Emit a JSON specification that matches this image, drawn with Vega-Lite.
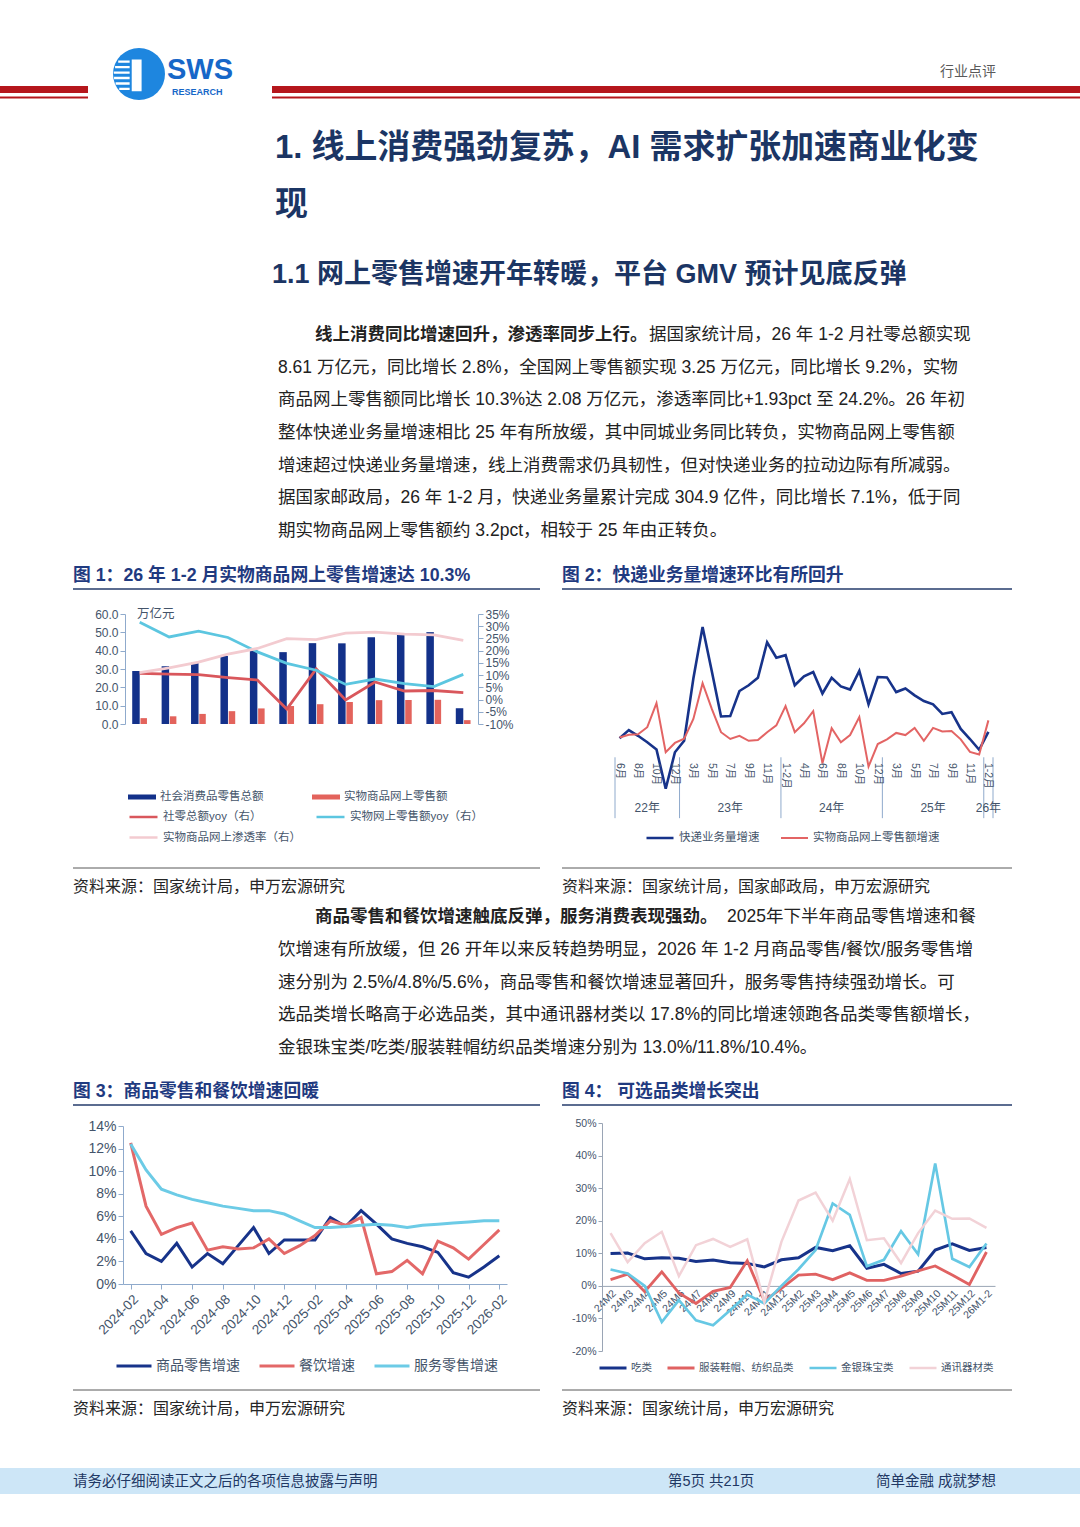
{
"$schema":"https://vega.github.io/schema/vega-lite/v6.json",
"width":1080,"height":1527,"autosize":{"type":"none"},"padding":0,"background":"#ffffff",
"config":{
 "view":{"stroke":null},
 "text":{"font":"Liberation Sans, Noto Sans CJK SC"},
 "axis":{"grid":false,"labelFont":"Liberation Sans, Noto Sans CJK SC","labelColor":"#44546a","domainColor":"#8faacc","tickColor":"#8faacc","labelOverlap":false,"labelFlush":false},
 "legend":{"labelFont":"Liberation Sans, Noto Sans CJK SC","labelColor":"#44546a","padding":0}
},
"datasets":{
 "one":[{"k":1}],
 "p1":[
  {"line":2,"text":"8.61 万亿元，同比增长 2.8%，全国网上零售额实现 3.25 万亿元，同比增长 9.2%，实物"},
  {"line":3,"text":"商品网上零售额同比增长 10.3%达 2.08 万亿元，渗透率同比+1.93pct 至 24.2%。26 年初"},
  {"line":4,"text":"整体快递业务量增速相比 25 年有所放缓，其中同城业务同比转负，实物商品网上零售额"},
  {"line":5,"text":"增速超过快递业务量增速，线上消费需求仍具韧性，但对快递业务的拉动边际有所减弱。"},
  {"line":6,"text":"据国家邮政局，26 年 1-2 月，快递业务量累计完成 304.9 亿件，同比增长 7.1%，低于同"},
  {"line":7,"text":"期实物商品网上零售额约 3.2pct，相较于 25 年由正转负。"}
 ],
 "p2":[
  {"line":2,"text":"饮增速有所放缓，但 26 开年以来反转趋势明显，2026 年 1-2 月商品零售/餐饮/服务零售增"},
  {"line":3,"text":"速分别为 2.5%/4.8%/5.6%，商品零售和餐饮增速显著回升，服务零售持续强劲增长。可"},
  {"line":4,"text":"选品类增长略高于必选品类，其中通讯器材类以 17.8%的同比增速领跑各品类零售额增长，"},
  {"line":5,"text":"金银珠宝类/吃类/服装鞋帽纺织品类增速分别为 13.0%/11.8%/10.4%。"}
 ],
 "c1":[
  {"year":"2015","社会消费品零售总额":28.9,"实物商品网上零售额":3.2,"社零总额yoy（右）":10.7,"实物网上零售额yoy（右）":31.6,"实物商品网上渗透率（右）":11.0},
  {"year":"2016","社会消费品零售总额":31.5,"实物商品网上零售额":4.2,"社零总额yoy（右）":10.4,"实物网上零售额yoy（右）":25.6,"实物商品网上渗透率（右）":13.0},
  {"year":"2017","社会消费品零售总额":33.5,"实物商品网上零售额":5.5,"社零总额yoy（右）":10.2,"实物网上零售额yoy（右）":28.0,"实物商品网上渗透率（右）":15.3},
  {"year":"2018","社会消费品零售总额":37.1,"实物商品网上零售额":7.0,"社零总额yoy（右）":9.0,"实物网上零售额yoy（右）":25.4,"实物商品网上渗透率（右）":18.6},
  {"year":"2019","社会消费品零售总额":40.4,"实物商品网上零售额":8.5,"社零总额yoy（右）":8.0,"实物网上零售额yoy（右）":19.5,"实物商品网上渗透率（右）":20.9},
  {"year":"2020","社会消费品零售总额":39.2,"实物商品网上零售额":9.8,"社零总额yoy（右）":-3.9,"实物网上零售额yoy（右）":14.8,"实物商品网上渗透率（右）":24.9},
  {"year":"2021","社会消费品零售总额":44.1,"实物商品网上零售额":10.8,"社零总额yoy（右）":12.5,"实物网上零售额yoy（右）":12.0,"实物商品网上渗透率（右）":24.5},
  {"year":"2022","社会消费品零售总额":44.0,"实物商品网上零售额":12.0,"社零总额yoy（右）":-0.2,"实物网上零售额yoy（右）":6.2,"实物商品网上渗透率（右）":27.2},
  {"year":"2023","社会消费品零售总额":47.3,"实物商品网上零售额":13.0,"社零总额yoy（右）":7.2,"实物网上零售额yoy（右）":8.4,"实物商品网上渗透率（右）":27.6},
  {"year":"2024","社会消费品零售总额":48.8,"实物商品网上零售额":13.1,"社零总额yoy（右）":3.5,"实物网上零售额yoy（右）":6.5,"实物商品网上渗透率（右）":26.8},
  {"year":"2025","社会消费品零售总额":50.1,"实物商品网上零售额":13.2,"社零总额yoy（右）":3.7,"实物网上零售额yoy（右）":5.3,"实物商品网上渗透率（右）":26.5},
  {"year":"2026M1-2","社会消费品零售总额":8.6,"实物商品网上零售额":2.1,"社零总额yoy（右）":2.8,"实物网上零售额yoy（右）":10.3,"实物商品网上渗透率（右）":24.2}
 ],
 "c2":[
  {"t":"22-06","lab":"6月","yl":"","快递业务量增速":5.3,"实物商品网上零售额增速":5.5},
  {"t":"22-07","lab":"","yl":"","快递业务量增速":7.6,"实物商品网上零售额增速":6.3},
  {"t":"22-08","lab":"8月","yl":"","快递业务量增速":6.0,"实物商品网上零售额增速":6.4},
  {"t":"22-09","lab":"","yl":"22年","快递业务量增速":4.2,"实物商品网上零售额增速":8.4},
  {"t":"22-10","lab":"10月","yl":"","快递业务量增速":2.2,"实物商品网上零售额增速":15.1},
  {"t":"22-11","lab":"","yl":"","快递业务量增速":-8.8,"实物商品网上零售额增速":1.4},
  {"t":"22-12","lab":"12月","yl":"","快递业务量增速":1.4,"实物商品网上零售额增速":4.0},
  {"t":"23-02","lab":"","yl":"","快递业务量增速":4.6,"实物商品网上零售额增速":5.2},
  {"t":"23-03","lab":"3月","yl":"","快递业务量增速":22.0,"实物商品网上零售额增速":10.7},
  {"t":"23-04","lab":"","yl":"","快递业务量增速":36.4,"实物商品网上零售额增速":20.7},
  {"t":"23-05","lab":"5月","yl":"","快递业务量增速":24.0,"实物商品网上零售额增速":13.5},
  {"t":"23-06","lab":"","yl":"","快递业务量增速":11.4,"实物商品网上零售额增速":7.0},
  {"t":"23-07","lab":"7月","yl":"23年","快递业务量增速":11.5,"实物商品网上零售额增速":5.1},
  {"t":"23-08","lab":"","yl":"","快递业务量增速":18.5,"实物商品网上零售额增速":6.0},
  {"t":"23-09","lab":"9月","yl":"","快递业务量增速":20.1,"实物商品网上零售额增速":4.6},
  {"t":"23-10","lab":"","yl":"","快递业务量增速":22.2,"实物商品网上零售额增速":4.8},
  {"t":"23-11","lab":"11月","yl":"","快递业务量增速":32.1,"实物商品网上零售额增速":7.0},
  {"t":"23-12","lab":"","yl":"","快递业务量增速":27.8,"实物商品网上零售额增速":8.9},
  {"t":"24-02","lab":"1-2月","yl":"","快递业务量增速":28.5,"实物商品网上零售额增速":14.3},
  {"t":"24-03","lab":"","yl":"","快递业务量增速":20.1,"实物商品网上零售额增速":7.0},
  {"t":"24-04","lab":"4月","yl":"","快递业务量增速":22.6,"实物商品网上零售额增速":9.5},
  {"t":"24-05","lab":"","yl":"","快递业务量增速":23.8,"实物商品网上零售额增速":12.9},
  {"t":"24-06","lab":"6月","yl":"","快递业务量增速":17.8,"实物商品网上零售额增速":-1.7},
  {"t":"24-07","lab":"","yl":"24年","快递业务量增速":22.2,"实物商品网上零售额增速":8.1},
  {"t":"24-08","lab":"8月","yl":"","快递业务量增速":19.8,"实物商品网上零售额增速":4.2},
  {"t":"24-09","lab":"","yl":"","快递业务量增速":18.9,"实物商品网上零售额增速":6.2},
  {"t":"24-10","lab":"10月","yl":"","快递业务量增速":24.1,"实物商品网上零售额增速":11.2},
  {"t":"24-11","lab":"","yl":"","快递业务量增速":14.8,"实物商品网上零售额增速":-2.6},
  {"t":"24-12","lab":"12月","yl":"","快递业务量增速":22.4,"实物商品网上零售额增速":3.7},
  {"t":"25-02","lab":"","yl":"","快递业务量增速":22.3,"实物商品网上零售额增速":5.0},
  {"t":"25-03","lab":"3月","yl":"","快递业务量增速":18.2,"实物商品网上零售额增速":6.8},
  {"t":"25-04","lab":"","yl":"","快递业务量增速":19.2,"实物商品网上零售额增速":6.2},
  {"t":"25-05","lab":"5月","yl":"","快递业务量增速":17.3,"实物商品网上零售额增速":8.2},
  {"t":"25-06","lab":"","yl":"","快递业务量增速":15.7,"实物商品网上零售额增速":4.6},
  {"t":"25-07","lab":"7月","yl":"25年","快递业务量增速":14.8,"实物商品网上零售额增速":8.2},
  {"t":"25-08","lab":"","yl":"","快递业务量增速":12.1,"实物商品网上零售额增速":7.2},
  {"t":"25-09","lab":"9月","yl":"","快递业务量增速":12.6,"实物商品网上零售额增速":7.3},
  {"t":"25-10","lab":"","yl":"","快递业务量增速":7.9,"实物商品网上零售额增速":5.0},
  {"t":"25-11","lab":"11月","yl":"","快递业务量增速":5.1,"实物商品网上零售额增速":1.5},
  {"t":"25-12","lab":"","yl":"","快递业务量增速":2.1,"实物商品网上零售额增速":0.8},
  {"t":"26-02","lab":"1-2月","yl":"26年","快递业务量增速":7.1,"实物商品网上零售额增速":10.3}
 ],
 "c3":[
  {"month":"2024-02","商品零售增速":4.7,"餐饮增速":12.5,"服务零售增速":12.4},
  {"month":"2024-03","商品零售增速":2.7,"餐饮增速":6.9,"服务零售增速":10.1},
  {"month":"2024-04","商品零售增速":2.0,"餐饮增速":4.4,"服务零售增速":8.4},
  {"month":"2024-05","商品零售增速":3.6,"餐饮增速":5.0,"服务零售增速":7.9},
  {"month":"2024-06","商品零售增速":1.5,"餐饮增速":5.4,"服务零售增速":7.5},
  {"month":"2024-07","商品零售增速":2.7,"餐饮增速":3.0,"服务零售增速":7.2},
  {"month":"2024-08","商品零售增速":1.8,"餐饮增速":3.3,"服务零售增速":6.9},
  {"month":"2024-09","商品零售增速":3.4,"餐饮增速":3.1,"服务零售增速":6.7},
  {"month":"2024-10","商品零售增速":5.0,"餐饮增速":3.2,"服务零售增速":6.5},
  {"month":"2024-11","商品零售增速":2.7,"餐饮增速":4.0,"服务零售增速":6.5},
  {"month":"2024-12","商品零售增速":3.9,"餐饮增速":2.7,"服务零售增速":6.2},
  {"month":"2025-01","商品零售增速":3.9,"餐饮增速":3.4,"服务零售增速":5.6},
  {"month":"2025-02","商品零售增速":3.9,"餐饮增速":4.3,"服务零售增速":5.0},
  {"month":"2025-03","商品零售增速":5.9,"餐饮增速":5.6,"服务零售增速":5.0},
  {"month":"2025-04","商品零售增速":5.1,"餐饮增速":5.2,"服务零售增速":5.1},
  {"month":"2025-05","商品零售增速":6.5,"餐饮增速":5.9,"服务零售增速":5.2},
  {"month":"2025-06","商品零售增速":5.3,"餐饮增速":0.9,"服务零售增速":5.3},
  {"month":"2025-07","商品零售增速":4.0,"餐饮增速":1.1,"服务零售增速":5.2},
  {"month":"2025-08","商品零售增速":3.6,"餐饮增速":2.1,"服务零售增速":5.0},
  {"month":"2025-09","商品零售增速":3.3,"餐饮增速":0.9,"服务零售增速":5.2},
  {"month":"2025-10","商品零售增速":2.8,"餐饮增速":3.8,"服务零售增速":5.3},
  {"month":"2025-11","商品零售增速":1.0,"餐饮增速":3.2,"服务零售增速":5.4},
  {"month":"2025-12","商品零售增速":0.6,"餐饮增速":2.2,"服务零售增速":5.5},
  {"month":"2026-01","商品零售增速":1.5,"餐饮增速":3.5,"服务零售增速":5.6},
  {"month":"2026-02","商品零售增速":2.5,"餐饮增速":4.8,"服务零售增速":5.6}
 ],
 "c4":[
  {"cat":"24M2","吃类":9.9,"服装鞋帽、纺织品类":1.9,"金银珠宝类":5.0,"通讯器材类":16.2},
  {"cat":"24M3","吃类":10.1,"服装鞋帽、纺织品类":3.6,"金银珠宝类":3.8,"通讯器材类":7.3},
  {"cat":"24M4","吃类":8.3,"服装鞋帽、纺织品类":-1.8,"金银珠宝类":0.0,"通讯器材类":13.1},
  {"cat":"24M5","吃类":8.6,"服装鞋帽、纺织品类":4.3,"金银珠宝类":-11.1,"通讯器材类":16.6},
  {"cat":"24M6","吃类":8.5,"服装鞋帽、纺织品类":-2.2,"金银珠宝类":-4.4,"通讯器材类":3.0},
  {"cat":"24M7","吃类":7.5,"服装鞋帽、纺织品类":-5.4,"金银珠宝类":-10.6,"通讯器材类":12.5},
  {"cat":"24M8","吃类":7.9,"服装鞋帽、纺织品类":-1.7,"金银珠宝类":-12.1,"通讯器材类":14.4},
  {"cat":"24M9","吃类":7.1,"服装鞋帽、纺织品类":-0.5,"金银珠宝类":-7.5,"通讯器材类":12.0},
  {"cat":"24M10","吃类":6.9,"服装鞋帽、纺织品类":7.7,"金银珠宝类":-2.7,"通讯器材类":14.3},
  {"cat":"24M11","吃类":5.8,"服装鞋帽、纺织品类":-4.6,"金银珠宝类":-5.4,"通讯器材类":-5.0},
  {"cat":"24M12","吃类":8.0,"服装鞋帽、纺织品类":-0.8,"金银珠宝类":0.0,"通讯器材类":13.5},
  {"cat":"25M2","吃类":8.6,"服装鞋帽、纺织品类":3.3,"金银珠宝类":5.1,"通讯器材类":26.2},
  {"cat":"25M3","吃类":11.8,"服装鞋帽、纺织品类":3.6,"金银珠宝类":11.0,"通讯器材类":28.6},
  {"cat":"25M4","吃类":10.8,"服装鞋帽、纺织品类":1.9,"金银珠宝类":25.3,"通讯器材类":20.0},
  {"cat":"25M5","吃类":12.3,"服装鞋帽、纺织品类":4.0,"金银珠宝类":21.8,"通讯器材类":32.8},
  {"cat":"25M6","吃类":5.4,"服装鞋帽、纺织品类":1.7,"金银珠宝类":6.0,"通讯器材类":14.0},
  {"cat":"25M7","吃类":6.6,"服装鞋帽、纺织品类":1.7,"金银珠宝类":8.0,"通讯器材类":14.6},
  {"cat":"25M8","吃类":3.8,"服装鞋帽、纺织品类":3.0,"金银珠宝类":16.8,"通讯器材类":7.0},
  {"cat":"25M9","吃类":4.5,"服装鞋帽、纺织品类":4.6,"金银珠宝类":9.7,"通讯器材类":16.2},
  {"cat":"25M10","吃类":11.0,"服装鞋帽、纺织品类":6.1,"金银珠宝类":37.6,"通讯器材类":23.1},
  {"cat":"25M11","吃类":12.9,"服装鞋帽、纺织品类":3.3,"金银珠宝类":8.3,"通讯器材类":20.6},
  {"cat":"25M12","吃类":10.9,"服装鞋帽、纺织品类":0.4,"金银珠宝类":5.8,"通讯器材类":20.7},
  {"cat":"26M1-2","吃类":11.8,"服装鞋帽、纺织品类":10.4,"金银珠宝类":13.0,"通讯器材类":17.8}
 ]
},
"layer":[
 {"data":{"name":"one"},"mark":{"type":"rect","color":"#b5161c"},"encoding":{"x":{"value":0},"x2":{"value":88},"y":{"value":86},"y2":{"value":93}}},
 {"data":{"name":"one"},"mark":{"type":"rect","color":"#b5161c"},"encoding":{"x":{"value":0},"x2":{"value":88},"y":{"value":96.5},"y2":{"value":98.5}}},
 {"data":{"name":"one"},"mark":{"type":"rect","color":"#b5161c"},"encoding":{"x":{"value":272},"x2":{"value":1080},"y":{"value":86},"y2":{"value":93}}},
 {"data":{"name":"one"},"mark":{"type":"rect","color":"#b5161c"},"encoding":{"x":{"value":272},"x2":{"value":1080},"y":{"value":96.5},"y2":{"value":98.5}}},
 {"data":{"name":"one"},"mark":{"type":"point","shape":"circle","filled":true,"size":2704,"color":"#1e86df","opacity":1},"encoding":{"x":{"value":139},"y":{"value":74}}},
 {"data":{"name":"one"},"mark":{"type":"point","shape":"M-0.8,-0.52H-0.36V-0.43H-0.8Z M-0.92,-0.31H-0.36V-0.22H-0.92Z M-0.97,-0.1H-0.36V-0.01H-0.97Z M-0.96,0.11H-0.36V0.2H-0.96Z M-0.9,0.32H-0.36V0.41H-0.9Z M-0.76,0.53H-0.36V0.62H-0.76Z M-0.28,-0.56H0.1V0.66H-0.28Z","filled":true,"size":2704,"color":"#ffffff","opacity":1},"encoding":{"x":{"value":139},"y":{"value":74}}},
 {"data":{"name":"one"},"mark":{"type":"text","align":"left","baseline":"middle","fontSize":29,"fontWeight":"bold","color":"#1767c8","font":"Liberation Sans"},"encoding":{"x":{"value":167},"y":{"value":70},"text":{"value":"SWS"}}},
 {"data":{"name":"one"},"mark":{"type":"text","align":"left","baseline":"middle","fontSize":9,"fontWeight":"bold","color":"#1767c8","font":"Liberation Sans"},"encoding":{"x":{"value":172},"y":{"value":91.5},"text":{"value":"RESEARCH"}}},
 {"data":{"name":"one"},"mark":{"type":"text","align":"center","baseline":"middle","fontSize":14,"color":"#595959"},"encoding":{"x":{"value":968},"y":{"value":72},"text":{"value":"行业点评"}}},
 {"data":{"name":"one"},"mark":{"type":"text","align":"left","baseline":"middle","fontSize":32.9,"fontWeight":"bold","color":"#1b3564"},"encoding":{"x":{"value":275},"y":{"value":148},"text":{"value":"1. 线上消费强劲复苏，AI 需求扩张加速商业化变"}}},
 {"data":{"name":"one"},"mark":{"type":"text","align":"left","baseline":"middle","fontSize":32.9,"fontWeight":"bold","color":"#1b3564"},"encoding":{"x":{"value":275},"y":{"value":205},"text":{"value":"现"}}},
 {"data":{"name":"one"},"mark":{"type":"text","align":"left","baseline":"middle","fontSize":27,"fontWeight":"bold","color":"#1b3564"},"encoding":{"x":{"value":272},"y":{"value":275},"text":{"value":"1.1 网上零售增速开年转暖，平台 GMV 预计见底反弹"}}},
 {"data":{"name":"one"},"mark":{"type":"text","align":"left","baseline":"middle","fontSize":17.5,"fontWeight":"bold","color":"#222222"},"encoding":{"x":{"value":315},"y":{"value":335},"text":{"value":"线上消费同比增速回升，渗透率同步上行。"}}},
 {"data":{"name":"one"},"mark":{"type":"text","align":"left","baseline":"middle","fontSize":17.5,"color":"#222222"},"encoding":{"x":{"value":649},"y":{"value":335},"text":{"value":"据国家统计局，26 年 1-2 月社零总额实现"}}},
 {"data":{"name":"p1"},"mark":{"type":"text","align":"left","baseline":"middle","fontSize":17.5,"color":"#222222"},"encoding":{"x":{"value":278},"y":{"field":"line","type":"quantitative","scale":{"domain":[1,7],"range":[335,531],"nice":false,"zero":false},"axis":null},"text":{"field":"text"}}},
 {"data":{"name":"one"},"mark":{"type":"text","align":"left","baseline":"middle","fontSize":17.8,"fontWeight":"bold","color":"#1f3a80"},"encoding":{"x":{"value":73},"y":{"value":576},"text":{"value":"图 1：26 年 1-2 月实物商品网上零售增速达 10.3%"}}},
 {"data":{"name":"one"},"mark":{"type":"text","align":"left","baseline":"middle","fontSize":17.8,"fontWeight":"bold","color":"#1f3a80"},"encoding":{"x":{"value":562},"y":{"value":576},"text":{"value":"图 2：快递业务量增速环比有所回升"}}},
 {"data":{"name":"one"},"mark":{"type":"rule","color":"#243b6b","strokeWidth":1.5},"encoding":{"x":{"value":73},"x2":{"value":540},"y":{"value":589}}},
 {"data":{"name":"one"},"mark":{"type":"rule","color":"#243b6b","strokeWidth":1.5},"encoding":{"x":{"value":562},"x2":{"value":1012},"y":{"value":589}}},
 {
  "data":{"name":"c1"},
  "layer":[
   {"mark":{"type":"bar","width":7.5,"xOffset":-3.75},
    "encoding":{
     "x":{"field":"year","type":"ordinal","title":null,"scale":{"range":[125,478],"paddingInner":0,"paddingOuter":0},"axis":{"orient":"bottom","offset":-803,"labelAngle":-45,"labelFontSize":12,"tickBand":"extent","tickSize":5,"labelPadding":3}},
     "y":{"field":"社会消费品零售总额","type":"quantitative","title":null,"scale":{"domain":[0,60],"range":[724,614],"nice":false,"zero":false},"axis":{"orient":"left","offset":-125,"values":[0,10,20,30,40,50,60],"format":".1f","labelFontSize":12,"tickSize":5}},
     "fill":{"datum":"社会消费品零售总额","type":"nominal","scale":{"domain":["社会消费品零售总额","实物商品网上零售额"],"range":["#13318a","#e3635c"]},"legend":{"orient":"none","legendX":128,"legendY":790,"direction":"horizontal","columns":2,"title":null,"symbolType":"M-1,-0.18H1V0.18H-1Z","symbolSize":784,"symbolStrokeWidth":0,"labelFontSize":11.5,"columnPadding":48,"labelOffset":4,"clipHeight":14}}
    }},
   {"mark":{"type":"bar","width":6.5,"xOffset":4},
    "encoding":{
     "x":{"field":"year","type":"ordinal","title":null,"scale":{"range":[125,478],"paddingInner":0,"paddingOuter":0},"axis":null},
     "y":{"field":"实物商品网上零售额","type":"quantitative","title":null,"scale":{"domain":[0,60],"range":[724,614],"nice":false,"zero":false},"axis":null},
     "fill":{"datum":"实物商品网上零售额","type":"nominal"}
    }},
   {"transform":[{"fold":["社零总额yoy（右）","实物网上零售额yoy（右）","实物商品网上渗透率（右）"],"as":["key","value"]}],
    "mark":{"type":"line","strokeWidth":2.8},
    "encoding":{
     "x":{"field":"year","type":"ordinal","title":null,"scale":{"range":[125,478],"paddingInner":0,"paddingOuter":0},"axis":null},
     "y":{"field":"value","type":"quantitative","title":null,"scale":{"domain":[-10,35],"range":[724,614],"nice":false,"zero":false},"axis":{"orient":"right","offset":-602,"values":[-10,-5,0,5,10,15,20,25,30,35],"labelExpr":"datum.value + '%'","labelFontSize":12,"tickSize":5}},
     "stroke":{"field":"key","type":"nominal","scale":{"domain":["社零总额yoy（右）","实物网上零售额yoy（右）","实物商品网上渗透率（右）"],"range":["#d9575c","#5cc6e0","#f3cbd0"]},"legend":{"orient":"none","legendX":128,"legendY":810,"direction":"horizontal","columns":2,"title":null,"symbolType":"stroke","symbolSize":784,"symbolStrokeWidth":2.5,"labelFontSize":11.5,"columnPadding":14,"rowPadding":6.5,"labelOffset":4,"clipHeight":14}}
    }},
   {"data":{"name":"one"},"mark":{"type":"text","align":"left","baseline":"middle","fontSize":12.5,"color":"#44546a"},"encoding":{"x":{"value":137},"y":{"value":614},"text":{"value":"万亿元"}}}
  ],
  "resolve":{"scale":{"y":"independent"}}
 },
 {
  "data":{"name":"c2"},
  "layer":[
   {"transform":[{"fold":["快递业务量增速","实物商品网上零售额增速"],"as":["key","value"]}],
    "mark":{"type":"line"},
    "encoding":{
     "x":{"field":"t","type":"ordinal","title":null,"scale":{"range":[615,993],"paddingInner":0,"paddingOuter":0},"axis":{"orient":"bottom","offset":-770,"labels":false,"tickBand":"extent","tickSize":35}},
     "y":{"field":"value","type":"quantitative","title":null,"scale":{"domain":[-15,40],"range":[811,614],"nice":false,"zero":false},"axis":{"orient":"left","offset":-615,"values":[-15,-10,-5,0,5,10,15,20,25,30,35,40],"labelExpr":"format(datum.value, '.1f') + '%'","labelFontSize":11,"tickSize":4}},
     "color":{"field":"key","type":"nominal","scale":{"domain":["快递业务量增速","实物商品网上零售额增速"],"range":["#17338a","#e36464"]},"legend":{"orient":"none","legendX":645,"legendY":831,"direction":"horizontal","title":null,"symbolType":"stroke","symbolSize":729,"symbolStrokeWidth":2.5,"labelFontSize":11.5,"columnPadding":20,"labelOffset":4,"clipHeight":14}},
     "strokeWidth":{"field":"key","type":"nominal","scale":{"domain":["快递业务量增速","实物商品网上零售额增速"],"range":[2.6,2]},"legend":null}
    }},
   {"transform":[{"filter":{"field":"t","oneOf":["22-06","23-02","24-02","25-02","26-02"]}}],
    "mark":{"type":"rule","color":"#8faacc","strokeWidth":1},
    "encoding":{
     "x":{"field":"t","type":"ordinal","bandPosition":0,"title":null,"scale":{"range":[615,993],"paddingInner":0,"paddingOuter":0},"axis":null},
     "y":{"datum":0,"type":"quantitative","scale":{"domain":[-15,40],"range":[811,614],"nice":false,"zero":false},"axis":null},
     "y2":{"datum":-17}
    }},
   {"transform":[{"filter":{"field":"t","equal":"26-02"}}],
    "mark":{"type":"rule","color":"#8faacc","strokeWidth":1},
    "encoding":{
     "x":{"field":"t","type":"ordinal","bandPosition":1,"title":null,"scale":{"range":[615,993],"paddingInner":0,"paddingOuter":0},"axis":null},
     "y":{"datum":0,"type":"quantitative","scale":{"domain":[-15,40],"range":[811,614],"nice":false,"zero":false},"axis":null},
     "y2":{"datum":-17}
    }},
   {"transform":[{"filter":"datum.lab != ''"}],
    "mark":{"type":"text","angle":90,"align":"left","baseline":"middle","fontSize":10.5,"color":"#44546a"},
    "encoding":{
     "x":{"field":"t","type":"ordinal","title":null,"scale":{"range":[615,993],"paddingInner":0,"paddingOuter":0},"axis":null},
     "y":{"datum":-1.6,"type":"quantitative","scale":{"domain":[-15,40],"range":[811,614],"nice":false,"zero":false},"axis":null},
     "text":{"field":"lab"}
    }},
   {"transform":[{"filter":"datum.yl != ''"}],
    "mark":{"type":"text","align":"center","baseline":"middle","fontSize":12,"color":"#44546a"},
    "encoding":{
     "x":{"field":"t","type":"ordinal","title":null,"scale":{"range":[615,993],"paddingInner":0,"paddingOuter":0},"axis":null},
     "y":{"datum":-14.3,"type":"quantitative","scale":{"domain":[-15,40],"range":[811,614],"nice":false,"zero":false},"axis":null},
     "text":{"field":"yl"}
    }}
  ]
 },
 {"data":{"name":"one"},"mark":{"type":"rule","color":"#595959","strokeWidth":1},"encoding":{"x":{"value":73},"x2":{"value":540},"y":{"value":868}}},
 {"data":{"name":"one"},"mark":{"type":"rule","color":"#595959","strokeWidth":1},"encoding":{"x":{"value":562},"x2":{"value":1012},"y":{"value":868}}},
 {"data":{"name":"one"},"mark":{"type":"text","align":"left","baseline":"middle","fontSize":16,"color":"#262626"},"encoding":{"x":{"value":73},"y":{"value":887},"text":{"value":"资料来源：国家统计局，申万宏源研究"}}},
 {"data":{"name":"one"},"mark":{"type":"text","align":"left","baseline":"middle","fontSize":16,"color":"#262626"},"encoding":{"x":{"value":562},"y":{"value":887},"text":{"value":"资料来源：国家统计局，国家邮政局，申万宏源研究"}}},
 {"data":{"name":"one"},"mark":{"type":"text","align":"left","baseline":"middle","fontSize":17.5,"fontWeight":"bold","color":"#222222"},"encoding":{"x":{"value":315},"y":{"value":917},"text":{"value":"商品零售和餐饮增速触底反弹，服务消费表现强劲。"}}},
 {"data":{"name":"one"},"mark":{"type":"text","align":"left","baseline":"middle","fontSize":17.5,"color":"#222222"},"encoding":{"x":{"value":727},"y":{"value":917},"text":{"value":"2025年下半年商品零售增速和餐"}}},
 {"data":{"name":"p2"},"mark":{"type":"text","align":"left","baseline":"middle","fontSize":17.5,"color":"#222222"},"encoding":{"x":{"value":278},"y":{"field":"line","type":"quantitative","scale":{"domain":[1,5],"range":[917,1048],"nice":false,"zero":false},"axis":null},"text":{"field":"text"}}},
 {"data":{"name":"one"},"mark":{"type":"text","align":"left","baseline":"middle","fontSize":17.8,"fontWeight":"bold","color":"#1f3a80"},"encoding":{"x":{"value":73},"y":{"value":1092},"text":{"value":"图 3：商品零售和餐饮增速回暖"}}},
 {"data":{"name":"one"},"mark":{"type":"text","align":"left","baseline":"middle","fontSize":17.8,"fontWeight":"bold","color":"#1f3a80"},"encoding":{"x":{"value":562},"y":{"value":1092},"text":{"value":"图 4：  可选品类增长突出"}}},
 {"data":{"name":"one"},"mark":{"type":"rule","color":"#243b6b","strokeWidth":1.5},"encoding":{"x":{"value":73},"x2":{"value":540},"y":{"value":1105}}},
 {"data":{"name":"one"},"mark":{"type":"rule","color":"#243b6b","strokeWidth":1.5},"encoding":{"x":{"value":562},"x2":{"value":1012},"y":{"value":1105}}},
 {
  "data":{"name":"c3"},
  "transform":[{"fold":["商品零售增速","餐饮增速","服务零售增速"],"as":["key","value"]}],
  "mark":{"type":"line","strokeWidth":3},
  "encoding":{
   "x":{"field":"month","type":"ordinal","title":null,"scale":{"range":[123,507],"paddingInner":0,"paddingOuter":0},"axis":{"orient":"bottom","offset":-243,"values":["2024-02","2024-04","2024-06","2024-08","2024-10","2024-12","2025-02","2025-04","2025-06","2025-08","2025-10","2025-12","2026-02"],"labelAngle":-45,"labelFontSize":13.5,"tickSize":5,"labelPadding":3}},
   "y":{"field":"value","type":"quantitative","title":null,"scale":{"domain":[0,14],"range":[1284,1126],"nice":false,"zero":false},"axis":{"orient":"left","offset":-123,"values":[0,2,4,6,8,10,12,14],"labelExpr":"datum.value + '%'","labelFontSize":14,"tickSize":5}},
   "color":{"field":"key","type":"nominal","scale":{"domain":["商品零售增速","餐饮增速","服务零售增速"],"range":["#17338a","#e36868","#6ccbe6"]},"legend":{"orient":"none","legendX":115,"legendY":1359,"direction":"horizontal","title":null,"symbolType":"stroke","symbolSize":1225,"symbolStrokeWidth":3,"labelFontSize":14,"columnPadding":18,"labelOffset":3,"clipHeight":14}}
  }
 },
 {
  "data":{"name":"c4"},
  "transform":[{"fold":["吃类","服装鞋帽、纺织品类","金银珠宝类","通讯器材类"],"as":["key","value"]}],
  "mark":{"type":"line"},
  "encoding":{
   "x":{"field":"cat","type":"ordinal","sort":null,"title":null,"scale":{"range":[602,995],"paddingInner":0,"paddingOuter":0},"axis":{"orient":"bottom","offset":-241.1,"labelAngle":-45,"labelFontSize":10.5,"ticks":false,"labelPadding":2,"domainColor":"#9aa5b5"}},
   "y":{"field":"value","type":"quantitative","title":null,"scale":{"domain":[-20,50],"range":[1351,1123],"nice":false,"zero":false},"axis":{"orient":"left","offset":-602,"values":[-20,-10,0,10,20,30,40,50],"labelExpr":"datum.value + '%'","labelFontSize":10.5,"tickSize":4,"domainColor":"#9aa5b5","tickColor":"#9aa5b5"}},
   "color":{"field":"key","type":"nominal","scale":{"domain":["吃类","服装鞋帽、纺织品类","金银珠宝类","通讯器材类"],"range":["#17338a","#e06262","#66c8e4","#f2d2d7"]},"legend":{"orient":"none","legendX":598,"legendY":1361,"direction":"horizontal","title":null,"symbolType":"stroke","symbolSize":729,"symbolStrokeWidth":2.5,"labelFontSize":10.5,"columnPadding":14,"labelOffset":3,"clipHeight":14}},
   "strokeWidth":{"field":"key","type":"nominal","scale":{"domain":["吃类","服装鞋帽、纺织品类","金银珠宝类","通讯器材类"],"range":[3,2.5,2.5,2.5]},"legend":null}
  }
 },
 {"data":{"name":"one"},"mark":{"type":"rule","color":"#595959","strokeWidth":1},"encoding":{"x":{"value":73},"x2":{"value":540},"y":{"value":1390}}},
 {"data":{"name":"one"},"mark":{"type":"rule","color":"#595959","strokeWidth":1},"encoding":{"x":{"value":562},"x2":{"value":1012},"y":{"value":1390}}},
 {"data":{"name":"one"},"mark":{"type":"text","align":"left","baseline":"middle","fontSize":16,"color":"#262626"},"encoding":{"x":{"value":73},"y":{"value":1409},"text":{"value":"资料来源：国家统计局，申万宏源研究"}}},
 {"data":{"name":"one"},"mark":{"type":"text","align":"left","baseline":"middle","fontSize":16,"color":"#262626"},"encoding":{"x":{"value":562},"y":{"value":1409},"text":{"value":"资料来源：国家统计局，申万宏源研究"}}},
 {"data":{"name":"one"},"mark":{"type":"rect","color":"#cde6f7"},"encoding":{"x":{"value":0},"x2":{"value":1080},"y":{"value":1468},"y2":{"value":1494}}},
 {"data":{"name":"one"},"mark":{"type":"text","align":"left","baseline":"middle","fontSize":14.5,"color":"#1f3864"},"encoding":{"x":{"value":73},"y":{"value":1482},"text":{"value":"请务必仔细阅读正文之后的各项信息披露与声明"}}},
 {"data":{"name":"one"},"mark":{"type":"text","align":"left","baseline":"middle","fontSize":14.5,"color":"#1f3864"},"encoding":{"x":{"value":668},"y":{"value":1482},"text":{"value":"第5页 共21页"}}},
 {"data":{"name":"one"},"mark":{"type":"text","align":"left","baseline":"middle","fontSize":14.5,"color":"#1f3864"},"encoding":{"x":{"value":876},"y":{"value":1482},"text":{"value":"简单金融 成就梦想"}}}
],
"resolve":{"scale":{"x":"independent","y":"independent","color":"independent","fill":"independent","stroke":"independent","strokeWidth":"independent"}}
}
